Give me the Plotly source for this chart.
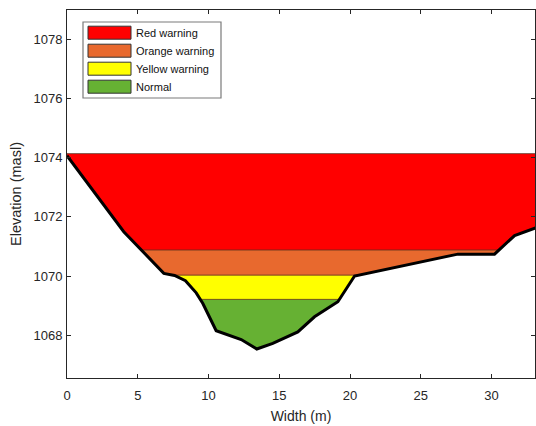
import numpy as np
import plotly.graph_objects as go

# Cross-section profile of the channel
width_m = [0.0, 4.01, 6.84, 7.60, 8.37, 9.13, 9.60, 10.54, 12.31, 13.41,
           14.54, 16.31, 17.49, 19.14, 20.32, 27.62, 30.21, 31.63, 33.20]
elevation = [1074.07, 1071.50, 1070.09, 1070.02, 1069.84, 1069.43, 1069.07,
             1068.15, 1067.85, 1067.53, 1067.72, 1068.11, 1068.62, 1069.13,
             1070.00, 1070.74, 1070.74, 1071.37, 1071.64]

# Warning levels (upper water surface of each band)
level_names = ["Red warning", "Orange warning", "Yellow warning", "Normal"]
level_tops = [1074.14, 1070.88, 1070.03, 1069.21]
level_colors = ["#FF0000", "#E8692E", "#FFFF00", "#66B133"]

x_ticks = [0, 5, 10, 15, 20, 25, 30]
y_ticks = [1068, 1070, 1072, 1074, 1076, 1078]
x_range = [0, 33.07]
y_range = [1066.55, 1079.0]


def band_polygon(x, y, top):
    """Region between the ground profile and a horizontal water level."""
    x = np.asarray(x, float)
    y = np.asarray(y, float)
    px, py = [], []
    for i in range(len(x)):
        if i > 0 and (y[i - 1] > top) != (y[i] > top):
            t = (top - y[i - 1]) / (y[i] - y[i - 1])
            px.append(x[i - 1] + t * (x[i] - x[i - 1]))
            py.append(top)
        if y[i] <= top:
            px.append(x[i])
            py.append(y[i])
    px += [px[-1], px[0], px[0]]
    py += [top, top, py[0]]
    return px, py


fig = go.Figure()

for name, top, color in zip(level_names, level_tops, level_colors):
    bx, by = band_polygon(width_m, elevation, top)
    fig.add_trace(go.Scatter(
        x=bx, y=by, mode="lines", fill="toself", fillcolor=color,
        line=dict(color="#5a3020", width=0.8), name=name,
        showlegend=False, hoverinfo="skip"))

fig.add_trace(go.Scatter(
    x=width_m, y=elevation, mode="lines",
    line=dict(color="black", width=3), name="Ground", showlegend=False))

# Plot area in pixels, used to place the legend box
L, R, T, B = 67, 535, 10, 378


def px_x(p):
    return (p - L) / (R - L)


def px_y(p):
    return 1 - (p - T) / (B - T)


shapes = [dict(type="rect", xref="paper", yref="paper",
               x0=px_x(83), x1=px_x(221), y0=px_y(98), y1=px_y(22),
               line=dict(color="#7a7a7a", width=1.2), fillcolor="white")]
annotations = []
for k, (name, color) in enumerate(zip(level_names, level_colors)):
    cy = 32.7 + 18.0 * k
    shapes.append(dict(type="rect", xref="paper", yref="paper",
                       x0=px_x(88), x1=px_x(131), y0=px_y(cy + 6.5),
                       y1=px_y(cy - 6.5), line=dict(color="#333333", width=1),
                       fillcolor=color))
    annotations.append(dict(xref="paper", yref="paper", x=px_x(134),
                            y=px_y(cy), text=name, showarrow=False,
                            xanchor="left", yanchor="middle",
                            font=dict(size=11, color="#111111")))

axis_common = dict(showline=True, linecolor="#262626", linewidth=1,
                   mirror="ticks", ticks="inside", ticklen=4,
                   tickcolor="#262626", showgrid=False, zeroline=False,
                   tickfont=dict(size=13, color="#262626"))

fig.update_layout(
    width=536, height=426,
    margin=dict(l=L, r=536 - R, t=T, b=426 - B),
    plot_bgcolor="white", paper_bgcolor="white",
    font=dict(family="Liberation Sans, Arial, sans-serif", color="#262626"),
    shapes=shapes, annotations=annotations,
    xaxis=dict(range=x_range, tickvals=x_ticks, ticklabelstandoff=5,
               title=dict(text="Width (m)", font=dict(size=14), standoff=9),
               **axis_common),
    yaxis=dict(range=y_range, tickvals=y_ticks, ticklabelstandoff=1,
               title=dict(text="Elevation (masl)", font=dict(size=14.5),
                          standoff=8),
               **axis_common),
)

fig.write_html("out.html")
